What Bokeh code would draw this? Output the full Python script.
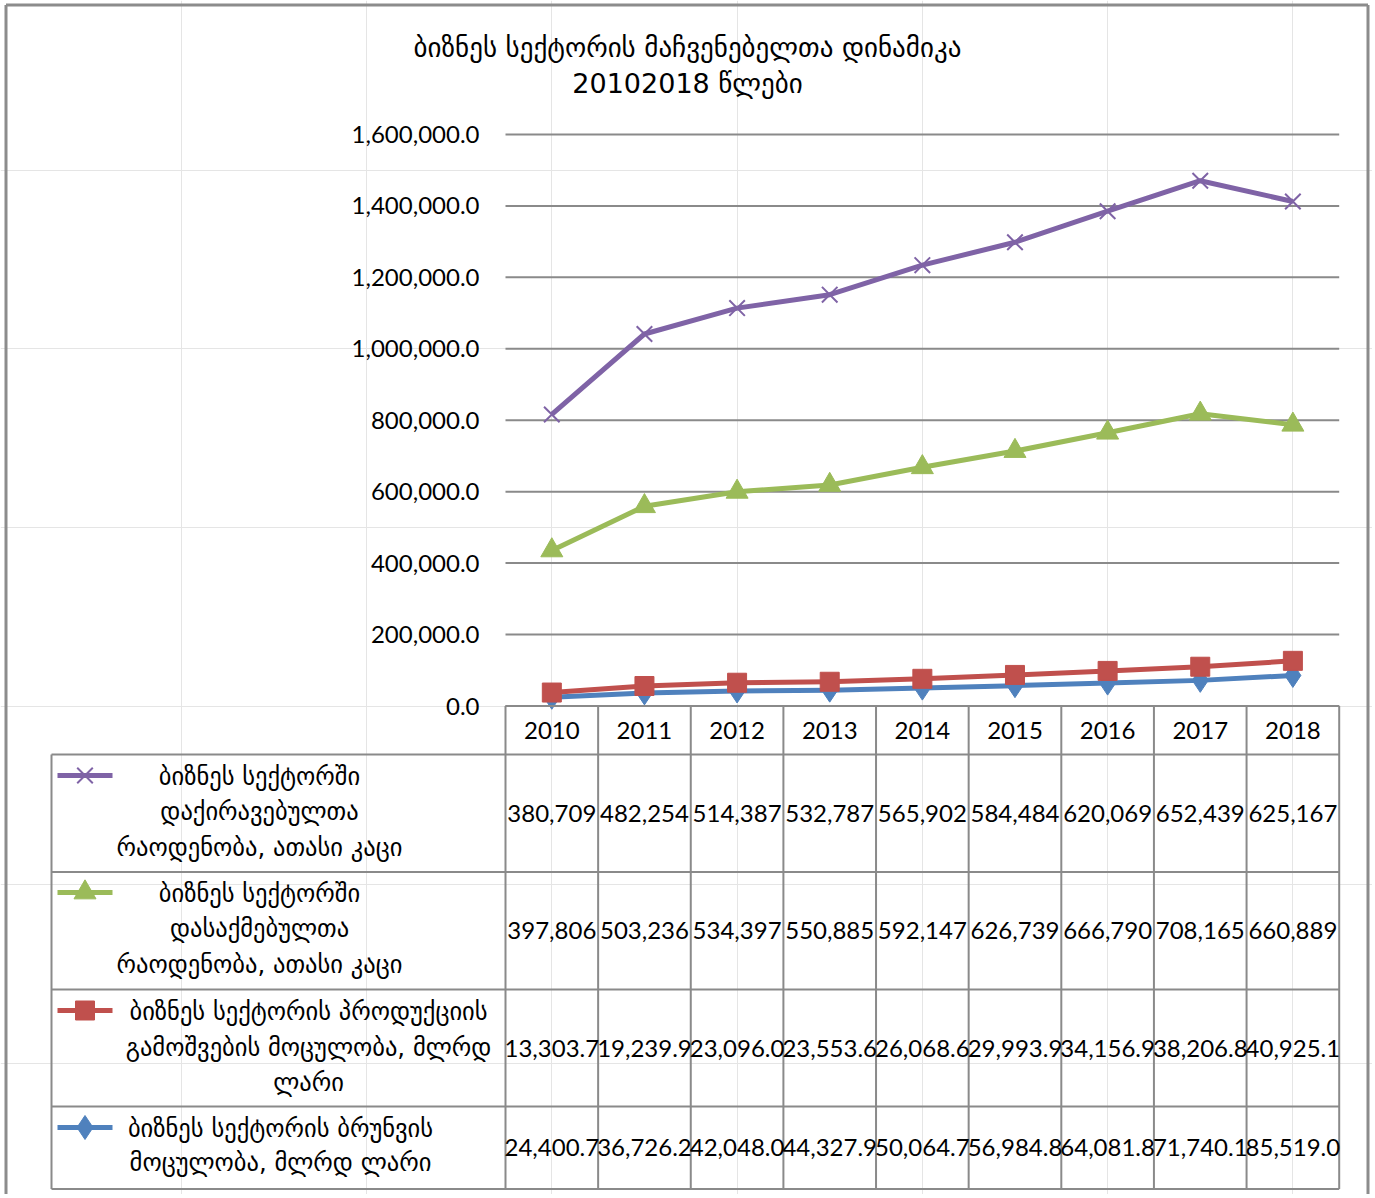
from bokeh.plotting import figure
from bokeh.models import Range1d
from bokeh.core.properties import value
from bokeh.embed import file_html
from bokeh.resources import INLINE

# ---------------- data ----------------
years = ["2010", "2011", "2012", "2013", "2014", "2015", "2016", "2017", "2018"]
hired = [380709, 482254, 514387, 532787, 565902, 584484, 620069, 652439, 625167]
employed = [397806, 503236, 534397, 550885, 592147, 626739, 666790, 708165, 660889]
production = [13303.7, 19239.9, 23096.0, 23553.6, 26068.6, 29993.9, 34156.9, 38206.8, 40925.1]
turnover = [24400.7, 36726.2, 42048.0, 44327.9, 50064.7, 56984.8, 64081.8, 71740.1, 85519.0]
y_ticks = [0, 200000, 400000, 600000, 800000, 1000000, 1200000, 1400000, 1600000]
title_lines = ["ბიზნეს სექტორის მაჩვენებელთა დინამიკა", "20102018 წლები"]
label_hired = ["ბიზნეს სექტორში", "დაქირავებულთა", "რაოდენობა, ათასი კაცი"]
label_employed = ["ბიზნეს სექტორში", "დასაქმებულთა", "რაოდენობა, ათასი კაცი"]
label_production = ["ბიზნეს სექტორის პროდუქციის", "გამოშვების მოცულობა, მლრდ", "ლარი"]
label_turnover = ["ბიზნეს სექტორის ბრუნვის", "მოცულობა, მლრდ ლარი"]

# ---------------- layout (page pixels) ----------------
W, H = 1372, 1194
PLOT_L, PLOT_R = 505.0, 1338.7
CW = (PLOT_R - PLOT_L) / len(years)
Y0PX = 705.5
PX_PER_UNIT = 71.44 / 200000.0
LEG_L = 51.0
ROW_EDGES = [754.0, 871.5, 989.0, 1106.0, 1188.5]
HEAD_TOP = Y0PX

GEO = value("DejaVu Sans")
NUM = value("Lato")
GRAY = "#8a8a8a"
PURPLE, GREEN, RED, BLUE = "#7f63a6", "#9bbb59", "#c0504d", "#4f81bd"

x_start = -0.5 + (0 - PLOT_L) / CW
x_end = -0.5 + (W - PLOT_L) / CW
y_start = -(H - Y0PX) / PX_PER_UNIT
y_end = Y0PX / PX_PER_UNIT

p = figure(width=W, height=H, x_range=Range1d(x_start, x_end), y_range=Range1d(y_start, y_end),
           output_backend="svg", toolbar_location=None, min_border=0,
           x_axis_location=None, y_axis_location=None)
p.extra_x_ranges = {"px": Range1d(0, W)}
p.extra_y_ranges = {"py": Range1d(H, 0)}
p.outline_line_color = None
p.background_fill_color = "white"
p.border_fill_color = "white"

# outer chart border
p.segment(x0=[5.5, 5.5, 1367.5], x1=[5.5, 1367.5, 1367.5], y0=[4.5, 4.5, 4.5],
          y1=[H + 5, 4.5, H + 5], x_range_name="px", y_range_name="py",
          line_color="#8c8c8c", line_width=3)

# gridlines
p.segment(x0=[PLOT_L] * len(y_ticks), x1=[PLOT_R] * len(y_ticks), y0=y_ticks, y1=y_ticks,
          x_range_name="px", line_color=GRAY, line_width=2)
p.text(x=[479] * len(y_ticks), y=y_ticks, text=["{:,.1f}".format(v) for v in y_ticks],
       x_range_name="px", text_font=NUM, text_font_size="24px", text_align="right",
       text_baseline="middle", text_color="black")

# title
p.text(x=[687, 687], y=[47, 83], text=title_lines, x_range_name="px", y_range_name="py",
       text_font=GEO, text_font_size="27px", text_align="center", text_baseline="middle",
       text_color="black")

# stacked series
xs = list(range(len(years)))
s1 = list(turnover)
s2 = [a + b for a, b in zip(s1, production)]
s3 = [a + b for a, b in zip(s2, employed)]
s4 = [a + b for a, b in zip(s3, hired)]

LW = 5
p.line(xs, s1, line_color=BLUE, line_width=LW, line_join="round")
p.scatter(xs, s1, marker="diamond", size=24, fill_color=BLUE, line_color=BLUE)
p.line(xs, s2, line_color=RED, line_width=LW, line_join="round")
p.scatter(xs, s2, marker="square", size=19, fill_color=RED, line_color=RED)
p.line(xs, s3, line_color=GREEN, line_width=LW, line_join="round")
p.scatter(xs, s3, marker="triangle", size=22, fill_color=GREEN, line_color=GREEN)
p.line(xs, s4, line_color=PURPLE, line_width=LW, line_join="round")
p.scatter(xs, s4, marker="x", size=22, line_color=PURPLE, line_width=2)

# ---------------- data table ----------------
col_edges = [PLOT_L + i * CW for i in range(len(years) + 1)]
p.segment(x0=[PLOT_L], x1=[PLOT_R], y0=[HEAD_TOP], y1=[HEAD_TOP], x_range_name="px",
          y_range_name="py", line_color=GRAY, line_width=2)
p.segment(x0=[LEG_L] * len(ROW_EDGES), x1=[PLOT_R] * len(ROW_EDGES), y0=ROW_EDGES, y1=ROW_EDGES,
          x_range_name="px", y_range_name="py", line_color=GRAY, line_width=2)
p.segment(x0=col_edges, x1=col_edges, y0=[HEAD_TOP] * len(col_edges),
          y1=[ROW_EDGES[-1]] * len(col_edges), x_range_name="px", y_range_name="py",
          line_color=GRAY, line_width=2)
p.segment(x0=[LEG_L], x1=[LEG_L], y0=[ROW_EDGES[0]], y1=[ROW_EDGES[-1]], x_range_name="px",
          y_range_name="py", line_color=GRAY, line_width=2)

centers = [PLOT_L + (i + 0.5) * CW for i in range(len(years))]
p.text(x=centers, y=[(HEAD_TOP + ROW_EDGES[0]) / 2] * len(years), text=years,
       x_range_name="px", y_range_name="py", text_font=NUM, text_font_size="24px",
       text_align="center", text_baseline="middle", text_color="black")

rows = [
    (hired, "{:,.0f}", label_hired, [776, 811, 847], 259, PURPLE, "x"),
    (employed, "{:,.0f}", label_employed, [893, 928, 964], 259, GREEN, "triangle"),
    (production, "{:,.1f}", label_production, [1011, 1047, 1082], 308, RED, "square"),
    (turnover, "{:,.1f}", label_turnover, [1128, 1162], 280, BLUE, "diamond"),
]
for r, (vals, fmt, lines, ly, lx, col, mk) in enumerate(rows):
    cy = (ROW_EDGES[r] + ROW_EDGES[r + 1]) / 2
    p.text(x=centers, y=[cy] * len(vals), text=[fmt.format(v) for v in vals],
           x_range_name="px", y_range_name="py", text_font=NUM, text_font_size="24px",
           text_align="center", text_baseline="middle", text_color="black")
    p.text(x=[lx] * len(lines), y=ly, text=lines, x_range_name="px", y_range_name="py",
           text_font=GEO, text_font_size="24.5px", text_align="center", text_baseline="middle",
           text_color="black")
    p.segment(x0=[57], x1=[112], y0=[ly[0] - 1], y1=[ly[0] - 1], x_range_name="px",
              y_range_name="py", line_color=col, line_width=LW)
    if mk == "x":
        p.scatter([84.5], [ly[0] - 1], marker="x", size=22, line_color=col, line_width=2,
                  x_range_name="px", y_range_name="py")
    else:
        sz = {"triangle": 22, "square": 19, "diamond": 24}[mk]
        p.scatter([84.5], [ly[0] - 1], marker=mk, size=sz, fill_color=col, line_color=col,
                  x_range_name="px", y_range_name="py")

open("out.html", "w").write(file_html(p, INLINE))
